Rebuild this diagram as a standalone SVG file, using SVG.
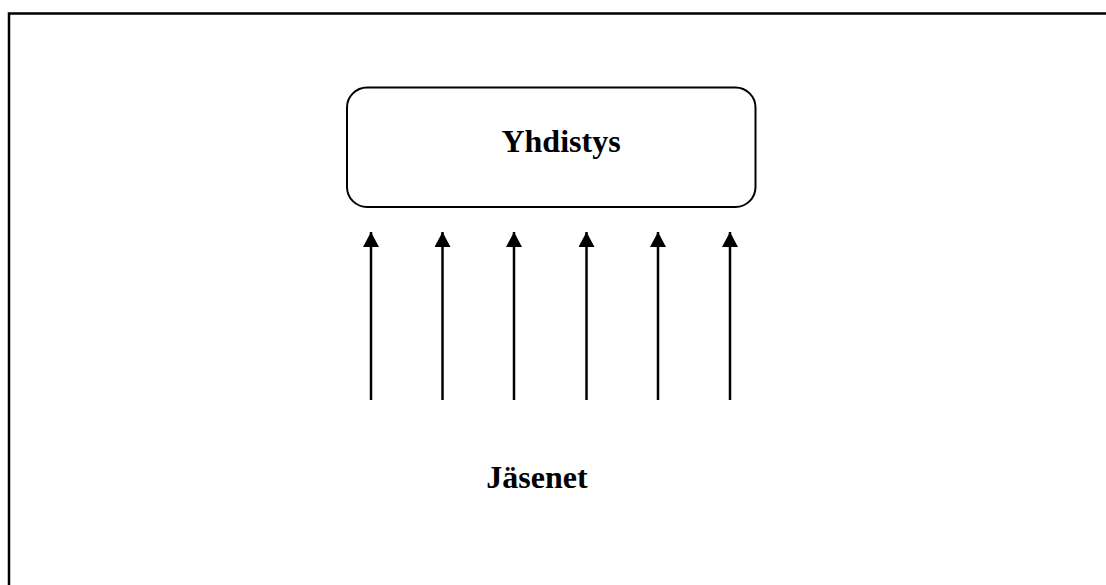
<svg xmlns="http://www.w3.org/2000/svg" width="1106" height="585" viewBox="0 0 1106 585">
<style>
.lbl{font-family:"Liberation Serif","Times New Roman",serif;font-weight:bold;font-size:32px;fill:#000}
.con{stroke:#000;stroke-width:2.5;fill:none}
</style>
<defs>
<marker id="ah" markerUnits="userSpaceOnUse" markerWidth="16" markerHeight="16" refX="15" refY="8" viewBox="0 0 16 16" orient="auto">
<path d="M0,0 L15,8 L0,16 Z" fill="#000"/>
</marker>
</defs>
<rect width="1106" height="585" fill="#fff"/>
<path d="M9,600 V13.5 H1120" stroke="#000" stroke-width="2.5" fill="none"/>
<g id="yhdistys">
<rect x="347" y="87.5" width="408.5" height="119.5" rx="20" ry="20" fill="#fff" stroke="#000" stroke-width="2"/>
<text class="lbl" x="561" y="152" text-anchor="middle">Yhdistys</text>
</g>
<g id="jasenet">
<text class="lbl" x="537" y="488" text-anchor="middle">Jäsenet</text>
</g>
<g id="connectors">
<line class="con" x1="371" y1="400" x2="371" y2="232" marker-end="url(#ah)"/>
<line class="con" x1="442.5" y1="400" x2="442.5" y2="232" marker-end="url(#ah)"/>
<line class="con" x1="514" y1="400" x2="514" y2="232" marker-end="url(#ah)"/>
<line class="con" x1="586.5" y1="400" x2="586.5" y2="232" marker-end="url(#ah)"/>
<line class="con" x1="658" y1="400" x2="658" y2="232" marker-end="url(#ah)"/>
<line class="con" x1="730" y1="400" x2="730" y2="232" marker-end="url(#ah)"/>
</g>
</svg>
